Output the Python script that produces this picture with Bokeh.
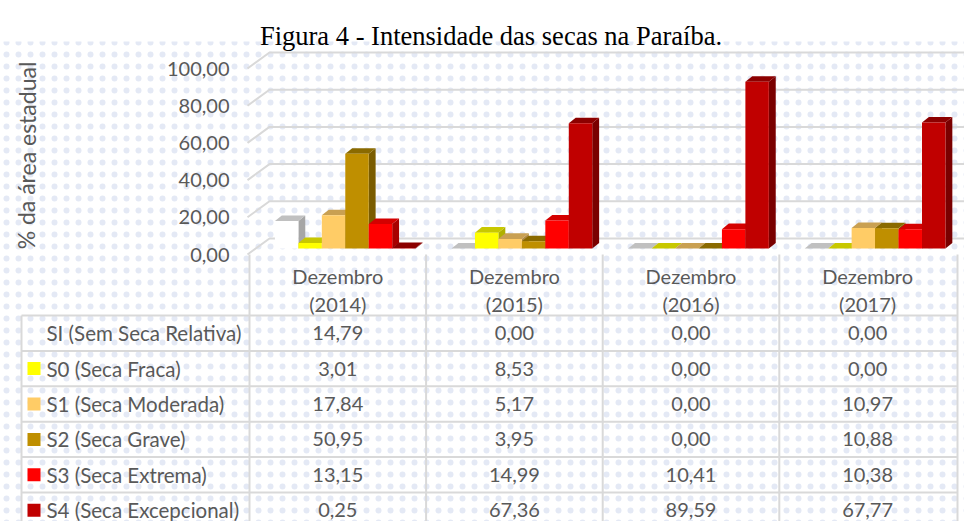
from bokeh.plotting import figure
from bokeh.models import Range1d, BoxAnnotation
from bokeh.core.properties import value
from bokeh.embed import file_html
from bokeh.resources import INLINE

# ---------------- data ----------------
title_text = "Figura 4 - Intensidade das secas na Paraíba."
y_label = "% da área estadual"
months = ["Dezembro", "Dezembro", "Dezembro", "Dezembro"]
years = ["(2014)", "(2015)", "(2016)", "(2017)"]
series_names = ["SI (Sem Seca Relativa)", "S0 (Seca Fraca)", "S1 (Seca Moderada)",
                "S2 (Seca Grave)", "S3 (Seca Extrema)", "S4 (Seca Excepcional)"]
SI = [14.79, 0.00, 0.00, 0.00]
S0 = [3.01, 8.53, 0.00, 0.00]
S1 = [17.84, 5.17, 0.00, 10.97]
S2 = [50.95, 3.95, 0.00, 10.88]
S3 = [13.15, 14.99, 10.41, 10.38]
S4 = [0.25, 67.36, 89.59, 67.77]
series_values = [SI, S0, S1, S2, S3, S4]
y_ticks = [0, 20, 40, 60, 80, 100]

front_colors = ["#ffffff", "#ffff00", "#ffcc66", "#bf8f00", "#ff0000", "#c00000"]
top_colors = ["#c0c0c0", "#c8c800", "#c9a052", "#8a6a00", "#d40000", "#8c0000"]
side_colors = ["#a6a6a6", "#b0b000", "#b08a45", "#7a5c00", "#a80000", "#7a0000"]
legend_colors = [None, "#ffff00", "#ffcc66", "#bf8f00", "#ff0000", "#c00000"]

# ---------------- layout ----------------
W, H = 964, 521
OFF = 0
PX_X = 176.6     # px per category
PX_Y = 1.86      # px per percent
X0 = 249         # page x of first category edge
Y0 = 254         # page y of value 0 (front)
ROW_H = 35.4
TABLE_TOP = 315

DXu = 20 / PX_X
DYu = 16 / PX_Y
ZF, ZB = 0.375, 0.72
BAR_W = 0.1328
BAR_START = 0.1015

TEXT = "#595959"
GRID = "#d9d9d9"
FONT = value("Lato")

def px_to_x(px):
    return (px - X0) / PX_X

def py_to_y(py):
    return (Y0 - py) / PX_Y

def py_to_t(py):
    return (py - TABLE_TOP) / ROW_H

p = figure(width=W, height=H,
           x_range=Range1d(px_to_x(OFF), px_to_x(OFF + W)),
           y_range=Range1d(py_to_y(OFF + H), py_to_y(OFF)),
           output_backend="svg", toolbar_location=None, min_border=0,
           x_axis_location=None, y_axis_location=None)
p.extra_y_ranges = {"table": Range1d(py_to_t(OFF + H), py_to_t(OFF))}
p.grid.visible = False
p.outline_line_color = None
p.background_fill_color = "white"
p.border_fill_color = "white"

# dotted background
p.add_layout(BoxAnnotation(top=py_to_y(41), fill_alpha=0, line_alpha=0,
                           hatch_pattern="dot", hatch_color="#bcc8e6",
                           hatch_scale=12, hatch_weight=1, hatch_alpha=0.4,
                           level="underlay"))

# title
p.text(x=[px_to_x(490.5)], y=[py_to_y(35)], text=[title_text],
       text_font=value("Liberation Serif"), text_font_size="26.5px",
       text_color="black", text_align="center", text_baseline="alphabetic")

# y label
p.text(x=[px_to_x(26)], y=[py_to_y(155)], text=[y_label], angle=1.5707963,
       text_font=FONT, text_font_size="23px", text_color=TEXT,
       text_align="center", text_baseline="alphabetic")

# gridlines (front diagonal + back wall)
gxs, gys = [], []
for v in y_ticks:
    gxs.append([px_to_x(247), DXu, 5.0])
    gys.append([v, v + DYu, v + DYu])
p.multi_line(gxs, gys, line_color=GRID, line_width=2)

# tick labels
p.text(x=[px_to_x(229)] * len(y_ticks), y=y_ticks,
       text=[f"{v:.2f}".replace(".", ",") for v in y_ticks],
       text_font=FONT, text_font_size="20px", text_color=TEXT,
       text_align="right", text_baseline="middle")

# 3D bars
side_xs, side_ys, side_c = [], [], []
top_xs, top_ys, top_c = [], [], []
fl, fr, fb, ft, fc = [], [], [], [], []
for c in range(len(years)):
    for s, vals in enumerate(series_values):
        v = vals[c]
        x0 = c + BAR_START + s * BAR_W
        x1 = x0 + BAR_W
        xf0, xf1 = x0 + ZF * DXu, x1 + ZF * DXu
        xb0, xb1 = x0 + ZB * DXu, x1 + ZB * DXu
        yf, yb = ZF * DYu, ZB * DYu
        side_xs.append([xf1, xb1, xb1, xf1])
        side_ys.append([yf, yb, v + yb, v + yf])
        side_c.append(side_colors[s])
        top_xs.append([xf0, xf1, xb1, xb0])
        top_ys.append([v + yf, v + yf, v + yb, v + yb])
        top_c.append(top_colors[s])
        fl.append(xf0); fr.append(xf1); fb.append(yf); ft.append(v + yf)
        fc.append(front_colors[s])
p.patches(side_xs, side_ys, fill_color=side_c, line_color=None)
p.patches(top_xs, top_ys, fill_color=top_c, line_color=None)
p.quad(left=fl, right=fr, bottom=fb, top=ft, fill_color=fc, line_color=None)

# table lines
n_rows = len(series_names)
tx_left = px_to_x(21)
tx_right = px_to_x(957)
p.multi_line([[tx_left, tx_right] for _ in range(n_rows + 1)],
             [[r, r] for r in range(n_rows + 1)],
             line_color=GRID, line_width=2, y_range_name="table")
col_x = [0, 1, 2, 3, tx_right]
p.multi_line([[cx, cx] for cx in col_x] + [[tx_left, tx_left]],
             [[py_to_t(Y0), n_rows + 1]] * len(col_x) + [[0, n_rows + 1]],
             line_color=GRID, line_width=2, y_range_name="table")

# header
centers = [c + 0.5 for c in range(len(years))]
p.text(x=centers, y=[py_to_t(275)] * 4, text=months, text_font=FONT,
       text_font_size="20px", text_color=TEXT, text_align="center",
       text_baseline="middle", y_range_name="table")
p.text(x=centers, y=[py_to_t(303)] * 4, text=years, text_font=FONT,
       text_font_size="20px", text_color=TEXT, text_align="center",
       text_baseline="middle", y_range_name="table")

# row labels + legend keys
p.text(x=[px_to_x(46)] * n_rows, y=[r + 0.5 for r in range(n_rows)],
       text=series_names, text_font=FONT, text_font_size="20.5px",
       text_color=TEXT, text_align="left", text_baseline="middle",
       y_range_name="table")
kx, ky, kc = [], [], []
for r, col in enumerate(legend_colors):
    if col:
        kx.append(px_to_x(33.5)); ky.append(r + 0.5); kc.append(col)
p.scatter(x=kx, y=ky, marker="square", size=13, fill_color=kc, line_color=None,
          y_range_name="table")

# values
vx, vy, vt = [], [], []
for r, vals in enumerate(series_values):
    for c, v in enumerate(vals):
        vx.append(c + 0.5); vy.append(r + 0.5)
        vt.append(f"{v:.2f}".replace(".", ","))
p.text(x=vx, y=vy, text=vt, text_font=FONT, text_font_size="20px",
       text_color=TEXT, text_align="center", text_baseline="middle",
       y_range_name="table")

open("out.html", "w").write(file_html(p, INLINE))
